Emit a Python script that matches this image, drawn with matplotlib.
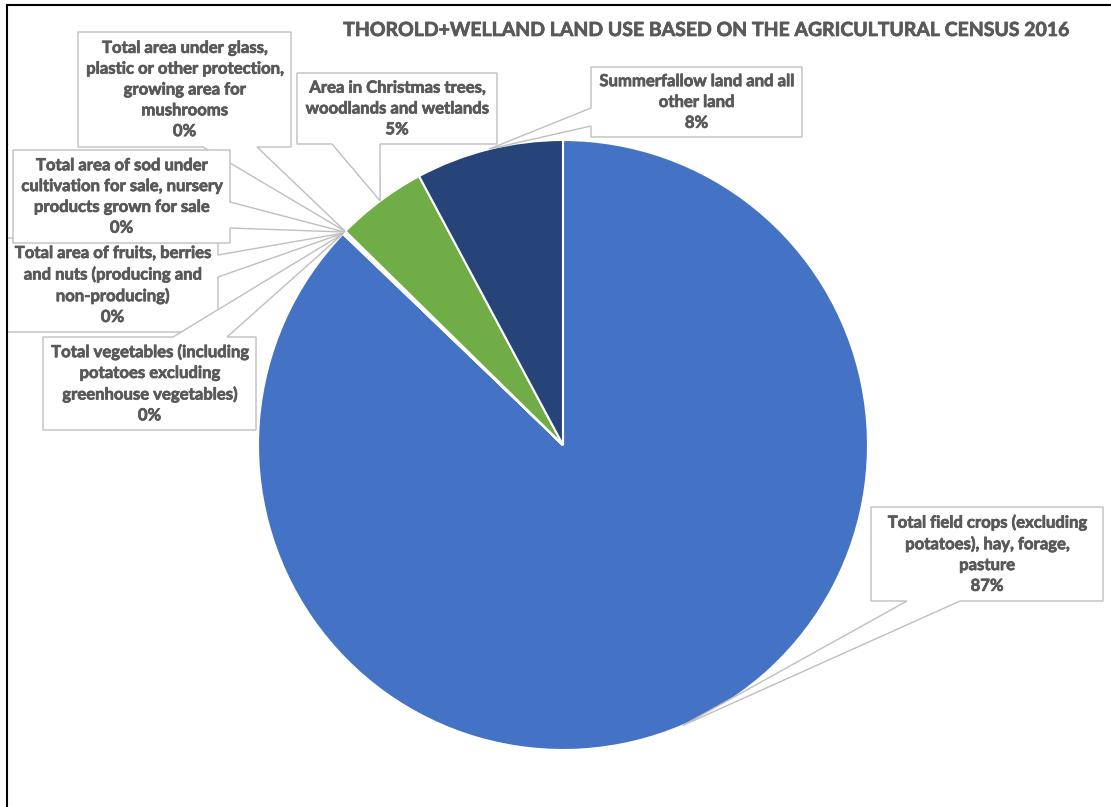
import matplotlib
matplotlib.use("Agg")
import matplotlib.pyplot as plt
from matplotlib.patches import Polygon
import matplotlib.patheffects as pe
import numpy as np

# ---- data -------------------------------------------------------------
categories = [
    "Total field crops (excluding\npotatoes), hay, forage,\npasture",
    "Total vegetables (including\npotatoes excluding\ngreenhouse vegetables)",
    "Total area of fruits, berries\nand nuts (producing and\nnon-producing)",
    "Total area of sod under\ncultivation for sale, nursery\nproducts grown for sale",
    "Total area under glass,\nplastic or other protection,\ngrowing area for\nmushrooms",
    "Area in Christmas trees,\nwoodlands and wetlands",
    "Summerfallow land and all\nother land",
]
values = [86.9, 0.03, 0.06, 0.08, 0.02, 4.8, 7.8]
colors = ["#4472C4", "#4472C4", "#4472C4", "#4472C4", "#4472C4", "#70AD47", "#264478"]
title = "THOROLD+WELLAND LAND USE BASED ON THE AGRICULTURAL CENSUS 2016"

# ---- layout (pixel space, y measured from the top) ---------------------
W, H = 1111, 807
CX, CY, R = 563, 445, 305

# callout boxes: (x0, y0, x1, y1, side of pointer, base start, base end)
boxes = [
    (871, 507, 1103, 601, "bottom", 907, 960),
    (43, 337, 256, 430, "top", 173, 227),
    (7, 238, 218, 332, "right", 255, 277),
    (13, 150, 230, 243, "right", 202, 228),
    (78, 32, 291, 147, "bottom", 203, 257),
    (297, 73, 497, 144, "bottom", 332, 380),
    (591, 67, 802, 137, "left", 108, 126),
]
draw_order = [0, 6, 5, 4, 2, 3, 1]

TEXT = "#595959"
EDGE = "#BFBFBF"
FONT = "Lato"
thicken = [pe.withStroke(linewidth=0.5, foreground=TEXT)]


def py(y):
    return H - y


fig = plt.figure(figsize=(W / 100, H / 100), dpi=100)
ax = fig.add_axes([0, 0, 1, 1])

wedges, _ = ax.pie(values, colors=colors, startangle=90, counterclock=False,
                   center=(CX, py(CY)), radius=R, frame=True,
                   wedgeprops=dict(edgecolor="white", linewidth=1.5))
ax.set_xlim(0, W)
ax.set_ylim(0, H)
ax.set_aspect("equal")
ax.axis("off")

total = sum(values)


def callout_vertices(box, tip):
    x0, y0, x1, y1, side, b0, b1 = box
    tx, ty = tip
    if side == "top":
        pts = [(x0, y0), (b0, y0), (tx, ty), (b1, y0), (x1, y0), (x1, y1), (x0, y1)]
    elif side == "right":
        pts = [(x0, y0), (x1, y0), (x1, b0), (tx, ty), (x1, b1), (x1, y1), (x0, y1)]
    elif side == "bottom":
        pts = [(x0, y0), (x1, y0), (x1, y1), (b1, y1), (tx, ty), (b0, y1), (x0, y1)]
    else:
        pts = [(x0, y0), (x1, y0), (x1, y1), (x0, y1), (x0, b1), (tx, ty), (x0, b0)]
    return [(x, py(y)) for x, y in pts]


for i in draw_order:
    w = wedges[i]
    mid = np.deg2rad((w.theta1 + w.theta2) / 2)
    tip = (CX + R * np.cos(mid), CY - R * np.sin(mid))
    box = boxes[i]
    z = 3 + draw_order.index(i) * 0.1
    ax.add_patch(Polygon(callout_vertices(box, tip), closed=True,
                         facecolor="white", edgecolor=EDGE, linewidth=1.0,
                         zorder=z))
    pct = round(values[i] / total * 100)
    label = f"{categories[i]}\n{pct}%"
    x0, y0, x1, y1 = box[:4]
    ax.text((x0 + x1) / 2, py((y0 + y1) / 2), label, ha="center", va="center",
            multialignment="center", fontsize=12, fontweight="bold",
            color=TEXT, family=FONT, linespacing=1.37,
            path_effects=thicken, zorder=z + 0.05)

ax.text(708, py(30.5), title, ha="center", va="center", fontsize=14,
        fontweight="bold", color=TEXT, family=FONT, path_effects=thicken)

# chart frame (top and left edges)
ax.plot([7, W], [py(5), py(5)], color="black", linewidth=1.5, zorder=10)
ax.plot([7, 7], [py(5), 0], color="black", linewidth=1.5, zorder=10)

fig.savefig("out.png", dpi=100, facecolor="white")
